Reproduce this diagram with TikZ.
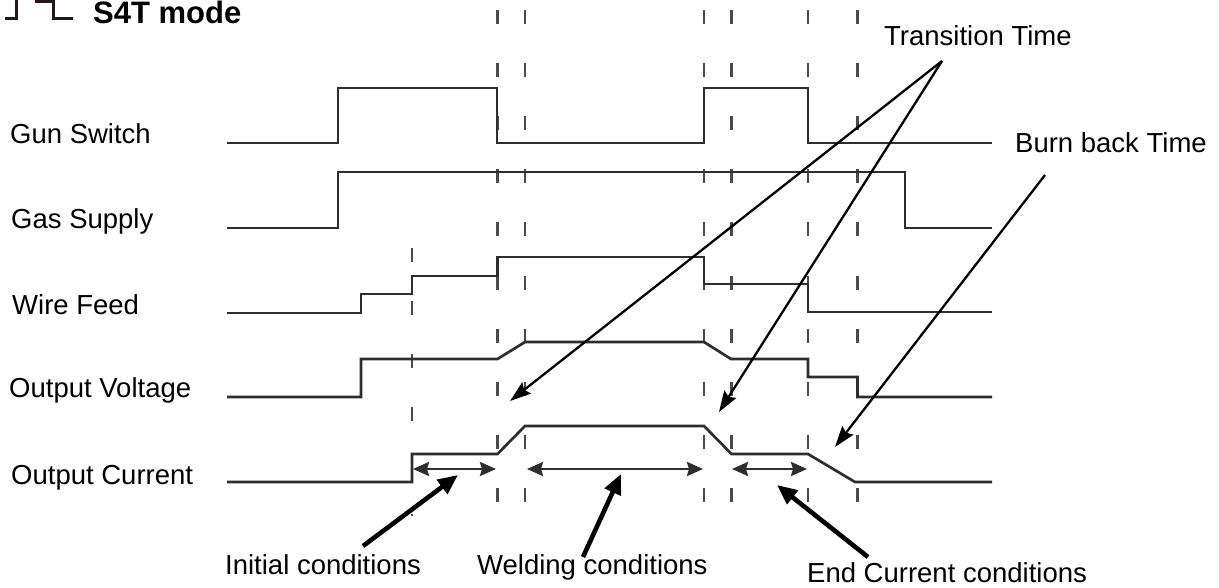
\documentclass[tikz,border=0pt]{standalone}
\usepackage{fontspec}
\setmainfont{Liberation Sans}
\usetikzlibrary{arrows.meta}
\definecolor{wave}{HTML}{2E2E2E}
\definecolor{dash}{HTML}{4A4A4A}
\definecolor{icon}{HTML}{231815}
\begin{document}
\begin{tikzpicture}[x=1pt,y=-1pt,
  lbl/.style={anchor=base west,inner sep=0pt,font=\fontsize{27.5}{32}\selectfont},
  ttl/.style={anchor=base west,inner sep=0pt,font=\fontsize{31}{36}\selectfont\bfseries},
  wv/.style={draw=wave,line width=2.7pt,line join=miter},
  guide/.style={draw=dash,line width=2.1pt,dash pattern=on 14pt off 39.1pt},
  tarrow/.style={draw=black,line width=2.3pt,-{Stealth[length=21pt,width=14pt,inset=3pt]}},
  barrow/.style={draw=black,line width=4.6pt,-{Triangle[length=20pt,width=17pt]}},
  darrow/.style={draw=wave,line width=2.7pt,{Stealth[length=16pt,width=14pt,inset=2pt]}-{Stealth[length=16pt,width=14pt,inset=2pt]}}]
\useasboundingbox (0,0) rectangle (1219,587);
\fill[white] (0,0) rectangle (1219,587);

% title icon and title
\draw[icon,line width=3pt] (5,18) -- (16,18) -- (16,-3);
\draw[icon,line width=3pt] (36,-3) -- (36,1) -- (53,1) -- (53,18) -- (73,18);
\node[ttl] (title) at (93,23) {S4T mode};

% signal labels
\node[lbl] (gun) at (10,143) {Gun Switch};
\node[lbl] (gas) at (11,228) {Gas Supply};
\node[lbl] (wire) at (12,314) {Wire Feed};
\node[lbl] (volt) at (9,397) {Output Voltage};
\node[lbl] (curr) at (11,484) {Output Current};

% dashed guide lines
\foreach \x in {497.5,525,704,731.5,808,857.5}
  \draw[guide] (\x,10) -- (\x,503);
\draw[guide] (412,248) -- (412,516);

% waveforms
\draw[wv] (227,143) -- (338,143) -- (338,88) -- (497,88) -- (497,143) -- (704,143) -- (704,88) -- (808,88) -- (808,143) -- (992,143);
\draw[wv] (227,228) -- (338,228) -- (338,172) -- (905,172) -- (905,228) -- (992,228);
\draw[wv] (227,313) -- (361,313) -- (361,294) -- (412,294) -- (412,276) -- (497.5,276) -- (497.5,257) -- (704,257) -- (704,284) -- (808,284) -- (808,312) -- (992,312);
\draw[wv] (227,397) -- (361,397) -- (361,359) -- (497.5,359) -- (525,342) -- (704,342) -- (731,359) -- (808,359) -- (808,377) -- (857.5,377) -- (857.5,397) -- (992,397);
\draw[wv] (227,482) -- (412,482) -- (412,454) -- (497.5,454) -- (525,426) -- (704,426) -- (731.5,454) -- (808,454) -- (855,482) -- (992,482);

% interval arrows on the current row
\coordinate (i1) at (413,469); \coordinate (i2) at (496,469);
\coordinate (w1) at (527,469); \coordinate (w2) at (703,469);
\coordinate (e1) at (732,469); \coordinate (e2) at (807,469);
\draw[darrow] (i1) -- (i2);
\draw[darrow] (w1) -- (w2);
\draw[darrow] (e1) -- (e2);

% top labels and arrows
\node[lbl] (trans) at (884,45) {Transition Time};
\node[lbl] (burn) at (1015,152) {Burn back Time};
\coordinate (tsrc) at (942,61);
\coordinate (ttip1) at (510,401);
\coordinate (ttip2) at (719,412);
\coordinate (bsrc) at (1045,175);
\coordinate (btip) at (835,447);
\draw[tarrow] (tsrc) -- (ttip1);
\draw[tarrow] (tsrc) -- (ttip2);
\draw[tarrow] (bsrc) -- (btip);

% bottom labels and arrows
\node[lbl] (init) at (225,574) {Initial conditions};
\node[lbl] (weld) at (477,574) {Welding conditions};
\node[lbl] (endc) at (807,582) {End Current conditions};
\coordinate (isrc) at (363,546); \coordinate (itip) at (458,475);
\coordinate (wsrc) at (583,557); \coordinate (wtip) at (621,474);
\coordinate (esrc) at (868,557); \coordinate (etip) at (777,485);
\draw[barrow] (isrc) -- (itip);
\draw[barrow] (wsrc) -- (wtip);
\draw[barrow] (esrc) -- (etip);
\end{tikzpicture}
\end{document}
